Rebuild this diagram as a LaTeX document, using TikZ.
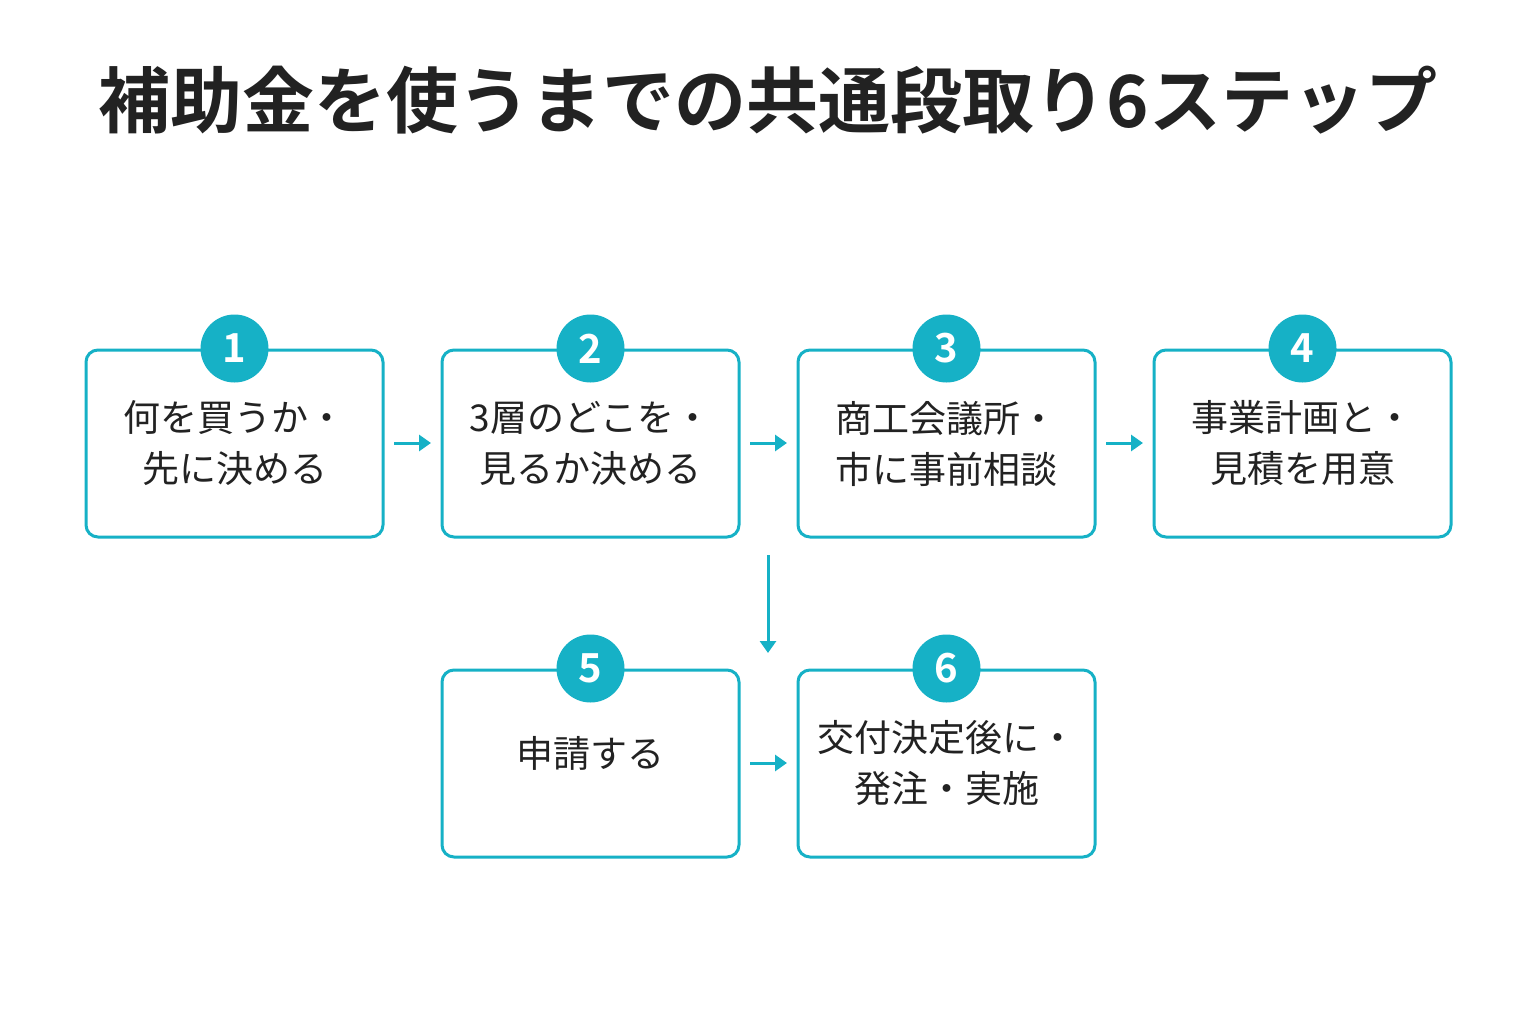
\documentclass[tikz,border=0pt]{standalone}
\usepackage{fontspec}
\newfontfamily\cjk{Noto Sans CJK JP}
\newfontfamily\cjkb{Noto Sans CJK JP Bold}
\usetikzlibrary{arrows.meta}
\definecolor{teal}{HTML}{16B1C6}
\definecolor{ink}{HTML}{222222}
\begin{document}
\begin{tikzpicture}[x=1pt,y=-1pt,
 box/.style={draw=teal,line width=3pt,rounded corners=12pt,fill=white,minimum width=297pt,minimum height=187pt,inner sep=0pt},
 lbl/.style={font=\cjk\fontsize{37}{51}\selectfont,text=ink,align=center},
 num/.style={circle,fill=teal,minimum size=68pt,inner sep=0pt,text=white,font=\cjkb\fontsize{40}{40}\selectfont},
 arr/.style={draw=teal,line width=3pt,-{Triangle[length=12pt,width=16pt]}}]
\useasboundingbox (0,0) rectangle (1536,1024);
\node[font=\cjkb\fontsize{72}{72}\selectfont,text=ink] (title) at (768,100) {補助金を使うまでの共通段取り6ステップ};
\node[box] (b1) at (234.5,443.5) {};
\node[box] (b2) at (590.5,443.5) {};
\node[box] (b3) at (946.5,443.5) {};
\node[box] (b4) at (1302.5,443.5) {};
\node[box] (b5) at (590.5,763.5) {};
\node[box] (b6) at (946.5,763.5) {};
\node[lbl] (t1) at (b1) {何を買うか・\\先に決める};
\node[lbl] (t2) at (b2) {3層のどこを・\\見るか決める};
\node[lbl] (t3) at (b3) {商工会議所・\\市に事前相談};
\node[lbl] (t4) at (b4) {事業計画と・\\見積を用意};
\node[lbl] (t5) at ([yshift=10pt]b5) {申請する};
\node[lbl] (t6) at (b6) {交付決定後に・\\発注・実施};
\foreach \i in {1,...,6}{\node[num] (n\i) at (b\i.north) {\i};}
\coordinate (a1s) at (394,443); \coordinate (a1e) at (431,443);
\coordinate (a2s) at (750,443); \coordinate (a2e) at (787,443);
\coordinate (a3s) at (1106,443); \coordinate (a3e) at (1143,443);
\coordinate (a4s) at (768,555); \coordinate (a4e) at (768,653);
\coordinate (a5s) at (750,763); \coordinate (a5e) at (787,763);
\draw[arr] (a1s) -- (a1e);
\draw[arr] (a2s) -- (a2e);
\draw[arr] (a3s) -- (a3e);
\draw[arr] (a4s) -- (a4e);
\draw[arr] (a5s) -- (a5e);
\end{tikzpicture}
\end{document}
